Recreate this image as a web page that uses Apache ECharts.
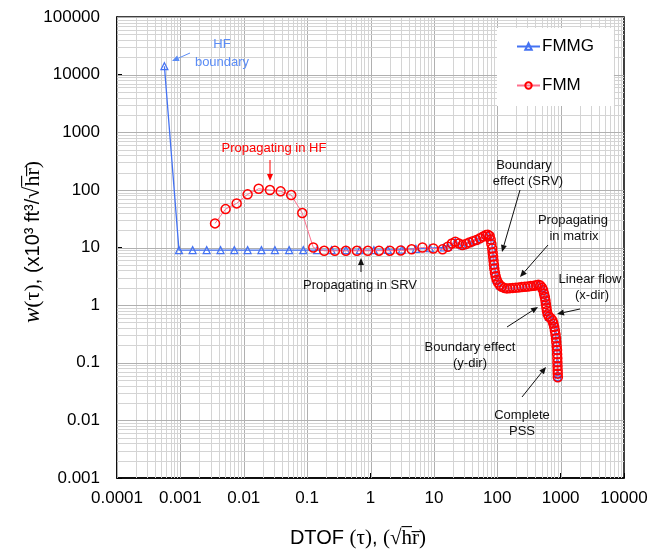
<!DOCTYPE html>
<html><head><meta charset="utf-8">
<script src="https://cdn.jsdelivr.net/npm/echarts@6/dist/echarts.min.js"></script>
<style>html,body{margin:0;padding:0;background:#fff}#c{width:652px;height:552px}</style>
</head><body><div id="c"></div>
<script>
const xTicks = [0.0001, 0.001, 0.01, 0.1, 1, 10, 100, 1000, 10000];
const xTickLabels = ['0.0001', '0.001', '0.01', '0.1', '1', '10', '100', '1000', '10000'];
const yTicks = [0.001, 0.01, 0.1, 1, 10, 100, 1000, 10000, 100000];
const yTickLabels = ['0.001', '0.01', '0.1', '1', '10', '100', '1000', '10000', '100000'];

// FMMG (blue triangles)
const fmmgTau = [0.00056, 0.00095, 0.00156, 0.0026, 0.0043, 0.0071, 0.0115, 0.019, 0.031, 0.052, 0.087,
  0.144, 0.243, 0.41, 0.68, 1.13, 1.88, 3.13, 5.2, 8.65, 14.4,
  16.6, 21.8, 28.2, 36.3, 46.8, 60, 71.1, 78.7, 83.2, 86.1, 88.6, 92, 97.9, 110, 142, 196, 272, 378, 445,
  509, 547, 576, 608, 656, 743, 793, 831, 855, 877, 889, 900, 903];
const fmmgW = [14000, 9.0, 9.0, 9.0, 9.0, 9.0, 9.0, 9.0, 9.0, 9.0, 9.0,
  9.0, 9.0, 9.0, 9.0, 9.0, 9.1, 9.2, 9.5, 9.7, 10.0,
  10.3, 12.4, 10.9, 12.1, 13.4, 15.3, 16.5, 13.5, 9.5, 6.9, 5.0, 3.6, 2.75, 2.2, 1.94, 2.0, 2.08, 2.16, 2.24,
  2.0, 1.57, 1.19, 0.78, 0.625, 0.54, 0.415, 0.307, 0.226, 0.165, 0.101, 0.064, 0.057];

// FMM (red circles)
const fmmTau = [0.00352, 0.00517, 0.00773, 0.0115, 0.0172, 0.0259, 0.0382, 0.0561, 0.0838, 0.125,
  0.186, 0.274, 0.409, 0.61, 0.91, 1.36, 2.02, 3.0, 4.45, 6.6, 9.8, 13.7,
  16.6, 19.2, 21.8, 24.8, 28.2, 32.0, 36.3, 41.2, 46.8, 53.2, 60.0, 66.1, 71.1, 75.9, 78.7, 80.9,
  83.2, 84.6, 86.1, 87.3, 88.6, 89.9, 92.0, 94.4, 97.9, 103, 110, 118, 129, 142, 158, 176, 196, 219,
  244, 272, 304, 339, 378, 414, 445, 479, 509, 530, 547, 564, 576, 586, 597, 608, 624, 656, 700, 743,
  770, 793, 813, 831, 846, 855, 867, 877, 881, 887, 889, 893, 897, 900, 903];
const fmmW = [26.2, 46.4, 58.3, 83.6, 104.5, 99.3, 94.2, 81.3, 39.6, 10.0,
  8.77, 8.77, 8.77, 8.77, 8.77, 8.8, 8.8, 8.9, 9.3, 10.0, 9.6, 9.28,
  10.3, 11.7, 12.6, 11.7, 11.0, 11.5, 12.2, 12.9, 13.5, 14.4, 15.5, 16.4, 16.7, 15.8, 13.7, 11.5,
  9.64, 8.15, 6.95, 5.93, 5.05, 4.30, 3.66, 3.16, 2.77, 2.46, 2.22, 2.09, 1.99, 1.95, 1.97, 1.99, 2.01, 2.03,
  2.06, 2.09, 2.11, 2.14, 2.17, 2.22, 2.26, 2.18, 2.01, 1.82, 1.58, 1.38, 1.20, 1.04, 0.905, 0.787, 0.692, 0.629, 0.590, 0.542,
  0.481, 0.419, 0.361, 0.310, 0.265, 0.228, 0.194, 0.166, 0.141, 0.120, 0.102, 0.0873, 0.0744, 0.0647, 0.0562];

const FONT = 'Liberation Sans, Arial, sans-serif';
const SERIF = 'Liberation Serif, DejaVu Serif, serif';

function gridValues(ticks) {
  const out = [];
  for (let i = 0; i < ticks.length - 1; i++) {
    for (let k = 1; k <= 9; k++) out.push([ticks[i] * k, k === 1 ? 1 : 0]);
  }
  out.push([ticks[ticks.length - 1], 1]);
  return out;
}
const xGrid = gridValues(xTicks);
const yGrid = gridValues(yTicks);

function labelFor(ticks, labels) {
  return function (v) {
    const i = Math.round(Math.log10(v)) - Math.round(Math.log10(ticks[0]));
    return labels[i] !== undefined ? labels[i] : '';
  };
}

function arrow(x1, y1, x2, y2, color) {
  const a = Math.atan2(y2 - y1, x2 - x1);
  const L = 7, W = 3;
  const bx = x2 - L * Math.cos(a), by = y2 - L * Math.sin(a);
  const px = -Math.sin(a) * W, py = Math.cos(a) * W;
  return [
    { type: 'line', silent: true, z: 100, shape: { x1: x1, y1: y1, x2: bx, y2: by }, style: { stroke: color, lineWidth: 1 } },
    { type: 'polygon', silent: true, z: 100, shape: { points: [[x2, y2], [bx + px, by + py], [bx - px, by - py]] }, style: { fill: color } }
  ];
}
function txt(x, y, s, color, size) {
  return { type: 'text', silent: true, z: 100, x: x, y: y, style: { text: s, fill: color, fontSize: size || 13, fontFamily: FONT, align: 'center', verticalAlign: 'middle' } };
}

const BLUE = '#4472f2';
const BLUE_TXT = '#5b8cf5';
const RED = '#ff0000';
const BLACK = '#111';

const graphics = [].concat(
  [txt(222, 44, 'HF', BLUE_TXT), txt(222, 62, 'boundary', BLUE_TXT)],
  arrow(190, 53, 172, 61, BLUE_TXT),
  [txt(274, 148, 'Propagating in HF', RED)],
  arrow(270, 160, 270, 181, RED),
  [txt(360, 285, 'Propagating in SRV', BLACK)],
  arrow(361, 272, 361, 258, BLACK),
  [txt(524, 165, 'Boundary', BLACK), txt(528, 181, 'effect (SRV)', BLACK)],
  arrow(520, 190, 502, 252, BLACK),
  [txt(573, 220, 'Propagating', BLACK), txt(574, 236, 'in matrix', BLACK)],
  arrow(548, 245, 520, 277, BLACK),
  [txt(590, 279, 'Linear flow', BLACK), txt(592, 295, '(x-dir)', BLACK)],
  arrow(580, 309, 557, 314, BLACK),
  [txt(470, 347, 'Boundary effect', BLACK), txt(470, 363, '(y-dir)', BLACK)],
  arrow(507, 327, 538, 307, BLACK),
  [txt(522, 415, 'Complete', BLACK), txt(522, 431, 'PSS', BLACK)],
  arrow(522, 397, 546, 367, BLACK),
  [{
    type: 'text', silent: true, z: 100, x: 358, y: 538,
    style: {
      text: '{a|DTOF }{b|(τ)}{a|, }{b|(√h\u0305r\u0305)}', align: 'center', verticalAlign: 'middle',
      rich: { a: { fontSize: 20, fontFamily: FONT, fill: '#000' }, b: { fontSize: 21, fontFamily: SERIF, fill: '#000' } }
    }
  }, {
    type: 'text', silent: true, z: 100, x: 33, y: 242, rotation: Math.PI / 2,
    style: {
      text: '{i|w}{b|(τ)}{a|, (x10³ ft³/}{b|√h\u0305r\u0305)}', align: 'center', verticalAlign: 'middle',
      rich: {
        a: { fontSize: 20, fontFamily: FONT, fill: '#000' },
        b: { fontSize: 22, fontFamily: SERIF, fill: '#000' },
        i: { fontSize: 23, fontFamily: SERIF, fontStyle: 'italic', fill: '#000' }
      }
    }
  }]
);

function gridSeries(vals, vertical) {
  return {
    type: 'custom', silent: true, z: 1, animation: false, clip: true,
    data: vals.map(v => vertical ? [v[0], 1, v[1]] : [1, v[0], v[1]]),
    renderItem: function (params, api) {
      const cs = params.coordSys;
      const major = api.value(2) === 1;
      const stroke = major ? '#b0b0b0' : '#d4d4d4';
      if (vertical) {
        const x = Math.round(api.coord([api.value(0), 1])[0]) + 0.5;
        return { type: 'line', shape: { x1: x, y1: cs.y, x2: x, y2: cs.y + cs.height }, style: { stroke: stroke, lineWidth: 1 } };
      } else {
        const y = Math.round(api.coord([1, api.value(1)])[1]) + 0.5;
        return { type: 'line', shape: { x1: cs.x, y1: y, x2: cs.x + cs.width, y2: y }, style: { stroke: stroke, lineWidth: 1 } };
      }
    }
  };
}

const chart = echarts.init(document.getElementById('c'), null, { renderer: 'canvas' });
chart.setOption({
  animation: false,
  backgroundColor: '#fff',
  grid: { left: 117, right: 28, top: 17, bottom: 74, show: true, borderColor: '#000', borderWidth: 1.5, backgroundColor: '#fff' },
  legend: {
    data: ['FMMG', 'FMM'], orient: 'vertical', left: 497, top: 28, backgroundColor: '#fff',
    padding: [10, 20, 12, 19], itemGap: 22, itemWidth: 23, itemHeight: 8,
    textStyle: { fontSize: 17, color: '#000', fontFamily: FONT, padding: [0, 0, 0, -3] }
  },
  xAxis: {
    type: 'log', logBase: 10, min: xTicks[0], max: xTicks[xTicks.length - 1], splitNumber: 8,
    axisLine: { show: true, lineStyle: { color: '#000', width: 1.5 } },
    axisTick: { show: true, inside: true, length: 5, lineStyle: { color: '#000', width: 1 } },
    splitLine: { show: false }, minorTick: { show: false },
    axisLabel: { color: '#000', fontSize: 17, fontFamily: FONT, margin: 12, formatter: labelFor(xTicks, xTickLabels) }
  },
  yAxis: {
    type: 'log', logBase: 10, min: yTicks[0], max: yTicks[yTicks.length - 1], splitNumber: 8,
    axisLine: { show: true, lineStyle: { color: '#000', width: 1.5 } },
    axisTick: { show: true, inside: true, length: 5, lineStyle: { color: '#000', width: 1 } },
    splitLine: { show: false },
    axisLabel: { color: '#000', fontSize: 17, fontFamily: FONT, margin: 17, formatter: labelFor(yTicks, yTickLabels) }
  },
  series: [
    gridSeries(xGrid, true),
    gridSeries(yGrid, false),
    {
      name: 'FMMG', type: 'line', silent: true, z: 3,
      data: fmmgTau.map((t, i) => [t, fmmgW[i]]),
      symbol: 'triangle', symbolSize: 7,
      lineStyle: { color: BLUE, width: 1.3 },
      itemStyle: { color: 'rgba(255,255,255,0)', borderColor: BLUE, borderWidth: 1.2 }
    },
    {
      name: 'FMM', type: 'line', silent: true, z: 4,
      data: fmmTau.map((t, i) => [t, fmmW[i]]),
      symbol: 'circle', symbolSize: 9,
      lineStyle: { color: '#ff6f8c', width: 1 },
      itemStyle: { color: 'rgba(255,255,255,0)', borderColor: RED, borderWidth: 1.5 }
    }
  ],
  graphic: graphics
});
</script>
</body></html>
